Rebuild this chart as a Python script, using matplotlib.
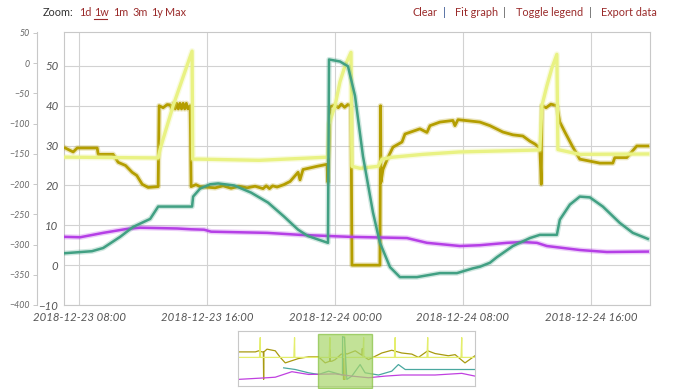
import numpy as np
import pandas as pd
import matplotlib
matplotlib.use("Agg")
import matplotlib.pyplot as plt
import matplotlib.dates as mdates
import matplotlib.patheffects as pe

plt.rcParams["font.family"] = ["Lato", "DejaVu Sans"]

BASE = pd.Timestamp("2018-12-23 00:00")

# --- main series (hours after 2018-12-23 00:00, value on right-hand scale) ---
olive_h = [7.125, 7.625, 7.875, 9.125, 9.19, 10.125, 10.44, 10.9, 11.31, 11.6, 11.94, 12.31, 12.94,
           13.0, 13.25, 13.5, 13.69, 13.8, 13.9, 14.0, 14.1, 14.2, 14.3, 14.4, 14.5, 14.6, 14.7, 14.8, 14.94,
           15.0, 15.3, 15.56, 16.5, 17.0, 17.5, 18.0, 18.5, 19.0, 19.5, 19.7, 19.9, 20.1, 20.375,
           20.8, 21.19, 21.69, 21.81, 22.0, 22.875, 23.5, 23.56, 23.69, 24.0, 24.2, 24.4, 24.6, 24.8, 25.0,
           25.06, 26.81, 26.85, 26.875, 27.0, 27.31, 27.625, 28.19, 28.375, 29.31, 29.75, 29.94, 30.56,
           31.375, 31.5, 31.69, 33.06, 33.69, 34.5, 35.125, 35.75, 36.19, 36.5, 36.81, 36.9, 36.94,
           37.2, 37.5, 37.875, 38.06, 38.375, 38.875, 39.31, 39.94, 40.56, 41.375, 41.5, 42.25, 42.875, 43.56]
olive_v = [29.4, 28.4, 29.4, 29.4, 27.8, 27.8, 25.8, 25.0, 23.3, 22.5, 20.3, 19.5, 19.7,
           40.0, 39.5, 40.3, 40.2, 39.2, 40.6, 39.2, 40.6, 39.2, 40.6, 39.2, 40.6, 39.2, 40.6, 39.2, 40.0,
           19.7, 20.2, 19.7, 19.4, 19.9, 19.3, 19.8, 19.4, 19.8, 19.2, 19.9, 19.2, 19.9, 19.6,
           20.2, 21.0, 23.3, 21.4, 24.0, 24.8, 25.3, 20.8, 39.7, 40.2, 39.5, 40.4, 39.6, 40.3, 40.0,
           0.0, 0.0, 40.0, 20.8, 24.0, 27.0, 29.6, 30.9, 32.9, 34.2, 33.3, 35.0, 35.9,
           36.3, 35.0, 36.5, 35.9, 35.0, 33.4, 32.7, 32.4, 31.1, 30.4, 29.4, 20.3, 40.0,
           39.5, 40.4, 40.0, 35.9, 33.4, 29.6, 26.6, 26.1, 25.6, 25.6, 27.0, 27.0, 29.9, 29.9]

yellow_h = [7.125, 12.94, 13.06, 13.875, 15.06, 15.1, 15.56, 19.25, 23.56, 23.625, 24.0, 24.31, 24.625,
            25.0, 25.06, 25.56, 26.69, 26.94, 27.625, 29.5, 31.75, 36.81, 36.94, 37.25, 37.56, 37.875,
            37.94, 39.31, 43.56]
yellow_v = [27.1, 26.9, 29.1, 40.0, 53.7, 26.6, 26.6, 26.3, 27.1, 35.4, 40.0, 46.0, 50.0,
            53.4, 24.8, 24.3, 24.8, 26.6, 27.1, 27.8, 28.4, 28.9, 40.0, 45.0, 49.4, 52.9,
            29.0, 27.8, 27.9]

teal_h = [7.125, 8.8, 9.5, 10.56, 11.375, 12.44, 12.94, 15.06, 15.125, 15.56, 16.19, 16.69, 17.69,
          18.75, 19.81, 20.81, 21.69, 22.31, 23.56, 23.625, 24.31, 24.81, 25.25, 25.75, 26.375, 26.81,
          27.44, 28.06, 29.125, 30.56, 31.625, 32.625, 33.06, 33.69, 34.125, 35.125, 36.19, 36.81,
          37.875, 38.06, 38.69, 39.31, 39.94, 40.75, 41.81, 42.625, 43.56]
teal_v = [3.0, 3.5, 4.3, 7.1, 9.6, 11.6, 14.7, 14.7, 17.2, 19.2, 20.3, 20.5, 20.0,
          18.2, 15.7, 12.2, 8.9, 7.3, 5.6, 51.6, 51.1, 49.9, 42.5, 27.3, 13.2, 5.6,
          -0.5, -3.0, -3.0, -2.0, -2.0, -0.8, -0.4, 0.6, 2.0, 4.8, 6.8, 7.6,
          7.6, 11.4, 15.2, 17.2, 17.0, 14.7, 10.6, 8.1, 6.6]

purple_h = [7.125, 8.06, 9.5, 11.0, 11.81, 14.125, 15.0, 15.81, 16.25, 19.75, 21.81, 24.94, 28.5,
            29.75, 31.81, 33.06, 34.75, 35.75, 36.625, 37.25, 39.31, 41.0, 43.56]
purple_v = [7.1, 7.0, 8.1, 9.1, 9.4, 9.2, 9.0, 8.9, 8.4, 8.1, 7.6, 7.1, 6.8,
            5.6, 4.8, 5.0, 5.6, 5.8, 5.6, 4.8, 3.8, 3.3, 3.4]

# --- overview (range selector) series: hours, fraction of the mini plot height ---
mini_olive_h = [-47.4, -35.6, -33.4, -31.0, -30.2, -30.0, -29.8, -27.7, -22.1, -18.7, -15.3, -10.8, -6.3,
                0.5, 7.3, 11.8, 14.8, 15.0, 15.2, 16.3, 18.6, 22.7, 24.0, 24.2, 25.2, 25.4, 26.5, 32.2,
                36.7, 37.0, 37.3, 41.2, 50.2, 57.0, 63.8, 70.6, 75.1, 81.4, 86.4, 95.4, 100.0, 106.7, 113.5]
mini_olive_v = [0.62, 0.62, 0.64, 0.62, 0.62, 0.12, 0.62, 0.67, 0.64, 0.52, 0.42, 0.46, 0.50,
                0.53, 0.53, 0.42, 0.45, 0.66, 0.45, 0.45, 0.48, 0.58, 0.58, 0.12, 0.12, 0.60, 0.58, 0.64,
                0.56, 0.68, 0.55, 0.48, 0.60, 0.65, 0.60, 0.58, 0.52, 0.64, 0.59, 0.55, 0.57, 0.42, 0.55]
mini_yellow_h = [-47.4, -32.8, -32.3, -32.1, -9.5, -9.0, -8.8, 14.5, 15.0, 15.2, 24.5, 25.0, 25.2,
                 37.4, 37.9, 38.1, 58.8, 59.3, 59.5, 80.9, 81.4, 81.6, 104.0, 104.5, 104.7, 113.5]
mini_yellow_v = [0.52, 0.52, 0.88, 0.52, 0.52, 0.88, 0.52, 0.52, 0.88, 0.52, 0.52, 0.9, 0.52,
                 0.52, 0.88, 0.52, 0.52, 0.88, 0.52, 0.52, 0.88, 0.52, 0.52, 0.88, 0.52, 0.52]
mini_teal_h = [-16.4, -8.5, 0.5, 7.3, 14.1, 23.5, 23.6, 24.9, 26.5, 29.9, 35.5, 38.9, 48.0, 57.0, 61.5,
               66.1, 113.5]
mini_teal_v = [0.33, 0.30, 0.24, 0.21, 0.27, 0.20, 0.90, 0.88, 0.12, 0.18, 0.39, 0.24, 0.20, 0.27, 0.39,
               0.30, 0.30]
mini_purple_h = [-47.4, -27.7, -22.1, -10.8, 0.5, 18.6, 29.9, 41.2, 52.5, 63.8, 86.4, 104.5, 113.5]
mini_purple_v = [0.12, 0.15, 0.16, 0.26, 0.21, 0.22, 0.18, 0.15, 0.18, 0.20, 0.20, 0.23, 0.18]

VIEW_H = (7.05, 43.7)
MINI_H = (-47.4, 113.5)

C_OLIVE, C_YELLOW, C_TEAL, C_PURPLE = "#b49e00", "#e9f283", "#41a083", "#b53fe6"
LINK = "#9a2b2b"
TICK = "#555555"
HDR = 7.8

t = lambda h: BASE + pd.to_timedelta(np.asarray(h, dtype=float), unit="h")

fig = plt.figure(figsize=(6.77, 3.89), dpi=100)
ax = fig.add_axes([64/677, 84/389, 586/677, 273/389])

def glow(lw, c):
    return [pe.Stroke(linewidth=lw + 2.0, foreground=c, alpha=0.25), pe.Normal()]

ax.plot(t(olive_h), olive_v, color=C_OLIVE, lw=2.0, path_effects=glow(2.0, C_OLIVE), zorder=3)
ax.plot(t(yellow_h), yellow_v, color=C_YELLOW, lw=2.4, path_effects=glow(2.4, C_YELLOW), zorder=4)
ax.plot(t(purple_h), purple_v, color=C_PURPLE, lw=1.8, path_effects=glow(1.8, C_PURPLE), zorder=3)
ax.plot(t(teal_h), teal_v, color=C_TEAL, lw=1.8, path_effects=glow(1.8, C_TEAL), zorder=5)

ax.set_xlim(t(VIEW_H[0]), t(VIEW_H[1]))
ax.set_ylim(-10, 58.5)
ax.set_yticks(range(-10, 51, 10))
ax.xaxis.set_major_locator(mdates.HourLocator(byhour=[0, 8, 16]))
ax.xaxis.set_major_formatter(mdates.DateFormatter("%Y-%m-%d %H:%M"))
ax.grid(True, color="#d2d2d2", lw=0.8)
ax.set_axisbelow(True)
for s in ax.spines.values():
    s.set_color("#c8c8c8"); s.set_linewidth(0.8)
ax.tick_params(axis="both", length=0, labelsize=8.2, labelcolor=TICK)
ax.tick_params(axis="y", pad=4)
ax.tick_params(axis="x", pad=5)
for lab in ax.get_xticklabels() + ax.get_yticklabels():
    lab.set_fontstyle("italic")

# outer (left-most) axis
ax2 = ax.twinx()
ax2.set_ylim(-400, 51.65)
ax2.set_yticks(range(-400, 51, 50))
ax2.yaxis.set_ticks_position("left")
ax2.yaxis.set_label_position("left")
ax2.spines["left"].set_position(("outward", 19.5))
for k in ("right", "top", "bottom"):
    ax2.spines[k].set_visible(False)
ax2.spines["left"].set_color("#c8c8c8"); ax2.spines["left"].set_linewidth(0.8)
ax2.tick_params(axis="y", length=3, width=0.7, color="#c8c8c8", labelsize=6.3, labelcolor="#666666", pad=2)
for lab in ax2.get_yticklabels():
    lab.set_fontstyle("italic")

# header links
fig.text(43/677, 1 - 13/389, "Zoom:", fontsize=HDR, color="#333333", va="center")
for x, s in [(79, "1d"), (94, "1w"), (113, "1m"), (132, "3m"), (151, "1y"), (165, "Max")]:
    fig.text(x/677, 1 - 13/389, s, fontsize=HDR, color=LINK, va="center")
fig.add_artist(plt.Line2D([94/677, 107/677], [1 - 19/389] * 2, color=LINK, lw=0.8))
for x, s, c in [(412, "Clear", LINK), (443, "|", "#2a4a8a"), (455, "Fit graph", LINK), (503, "|", "#555555"),
                (516, "Toggle legend", LINK), (589, "|", "#555555"), (601, "Export data", LINK)]:
    fig.text(x/677, 1 - 13/389, s, fontsize=HDR, color=c, va="center")

# range selector
mx = fig.add_axes([238/677, 3/389, 237/677, 55/389])
mx.plot(t(mini_olive_h), mini_olive_v, color="#a89a10", lw=0.9)
mx.plot(t(mini_yellow_h), mini_yellow_v, color="#e4ee6c", lw=0.9)
mx.plot(t(mini_teal_h), mini_teal_v, color="#4aa8a0", lw=0.9)
mx.plot(t(mini_purple_h), mini_purple_v, color="#c040e0", lw=0.9)
mx.set_xlim(t(MINI_H[0]), t(MINI_H[1]))
mx.set_ylim(0, 1)
mx.set_xticks([]); mx.set_yticks([])
for s in mx.spines.values():
    s.set_color("#c8c8c8"); s.set_linewidth(0.8)
mx.axvspan(t(VIEW_H[0]), t(VIEW_H[1]), ymin=-0.04, ymax=0.945, facecolor="#a9d66b", edgecolor="#86c040",
           alpha=0.7, lw=1.0, clip_on=False, zorder=5)

fig.savefig("out.png", dpi=100)
